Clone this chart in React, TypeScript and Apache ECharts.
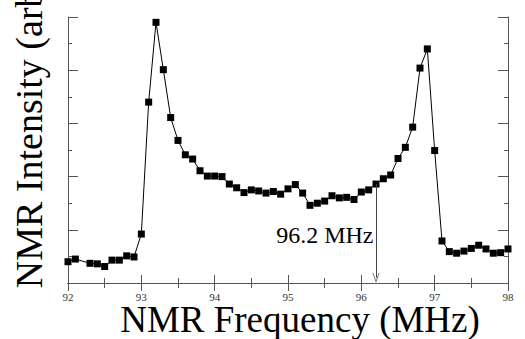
import React, { useEffect, useRef } from "react";
import * as echarts from "echarts";

const freq = [
  92.0, 92.1, 92.3, 92.4, 92.5, 92.6, 92.7, 92.8, 92.9, 93.0,
  93.1, 93.2, 93.3, 93.4, 93.5, 93.6, 93.7, 93.8, 93.9, 94.0,
  94.1, 94.2, 94.3, 94.4, 94.5, 94.6, 94.7, 94.8, 94.9, 95.0,
  95.1, 95.2, 95.3, 95.4, 95.5, 95.6, 95.7, 95.8, 95.9, 96.0,
  96.1, 96.2, 96.3, 96.4, 96.5, 96.6, 96.7, 96.8, 96.9, 97.0,
  97.1, 97.2, 97.3, 97.4, 97.5, 97.6, 97.7, 97.8, 97.9, 98.0,
];
const intensity = [
  0.4, 0.45, 0.37, 0.36, 0.31, 0.43, 0.43, 0.51, 0.49, 0.92,
  3.4, 4.9, 4.01, 3.11, 2.68, 2.41, 2.33, 2.11, 2.01, 2.01,
  2.0, 1.86, 1.79, 1.7, 1.75, 1.73, 1.69, 1.72, 1.67, 1.77,
  1.85, 1.69, 1.46, 1.5, 1.54, 1.64, 1.6, 1.61, 1.57, 1.71,
  1.75, 1.86, 1.96, 2.03, 2.34, 2.55, 2.93, 4.04, 4.4, 2.49,
  0.79, 0.59, 0.56, 0.6, 0.65, 0.71, 0.64, 0.56, 0.57, 0.64,
];
const xTicks = { min: 92, max: 98, interval: 1 };
const yTicks = { min: 0, max: 5, interval: 1 };
const annotation = { freq: 96.2, value: 1.86, label: "96.2 MHz", textAt: [96.17, 0.9] };
const xTitle = "NMR Frequency (MHz)";
const yTitle = "NMR Intensity (arb)";

const SERIF = "serif";

export default function App() {
  const ref = useRef<HTMLDivElement>(null);
  useEffect(() => {
    if (!ref.current) return;
    const chart = echarts.init(ref.current, undefined, { renderer: "svg" });
    const axisLine = { show: true, lineStyle: { color: "#555", width: 1 } };
    const xBase = {
      type: "value" as const,
      min: xTicks.min,
      max: xTicks.max,
      interval: xTicks.interval,
      axisLine,
      splitLine: { show: false },
      axisTick: { show: true, inside: true, length: 8, lineStyle: { color: "#555" } },
      minorTick: { show: true, splitNumber: 2, length: 5, lineStyle: { color: "#555" } },
    };
    const yBase = {
      type: "value" as const,
      min: yTicks.min,
      max: yTicks.max,
      interval: yTicks.interval,
      axisLine,
      splitLine: { show: false },
      axisLabel: { show: false },
      axisTick: { show: true, inside: true, length: 10, lineStyle: { color: "#555" } },
      minorTick: { show: true, splitNumber: 2, length: 4, lineStyle: { color: "#555" } },
    };
    chart.setOption({
      animation: false,
      textStyle: { fontFamily: SERIF },
      grid: { left: 68, right: 17, top: 17, bottom: 56, containLabel: false, outerBoundsMode: "none" },
      xAxis: [
        {
          ...xBase,
          position: "bottom",
          axisLabel: {
            show: true,
            fontFamily: SERIF,
            fontSize: 11,
            color: "#333",
            margin: 8,
            formatter: "{value}",
          },
        },
        { ...xBase, position: "top", axisLabel: { show: false } },
      ],
      yAxis: [
        { ...yBase, position: "left" },
        { ...yBase, position: "right" },
      ],
      graphic: [
        {
          type: "text",
          x: 300,
          y: 319,
          style: {
            text: xTitle,
            fontFamily: SERIF,
            fontSize: 37,
            fill: "#000",
            align: "center",
            verticalAlign: "middle",
          },
        },
        {
          type: "text",
          x: 29,
          y: 132,
          rotation: Math.PI / 2,
          style: {
            text: yTitle,
            fontFamily: SERIF,
            fontSize: 38,
            fill: "#000",
            align: "center",
            verticalAlign: "middle",
          },
        },
      ],
      series: [
        {
          type: "line",
          data: freq.map((f, i) => [f, intensity[i]]),
          symbol: "rect",
          symbolSize: 7,
          showAllSymbol: true,
          itemStyle: { color: "#000" },
          lineStyle: { color: "#000", width: 1 },
          markLine: {
            silent: true,
            symbol: ["none", "path://M5,0 L10,10 L9,10 L5,2 L1,10 L0,10 Z"],
            symbolSize: [7, 10],
            lineStyle: { color: "#444", width: 1, type: "solid" },
            label: { show: false },
            data: [
              [
                { coord: [annotation.freq, annotation.value] },
                { coord: [annotation.freq, 0.1] },
              ],
            ],
          },
          markPoint: {
            data: [
              {
                coord: annotation.textAt,
                symbolSize: 1,
                itemStyle: { color: "rgba(0,0,0,0)" },
                label: {
                  show: true,
                  position: "left",
                  distance: 0,
                  formatter: annotation.label,
                  fontFamily: SERIF,
                  fontSize: 24,
                  color: "#000",
                },
              },
            ],
          },
        },
      ],
    });
    return () => chart.dispose();
  }, []);
  return (
    <div
      ref={ref}
      style={{ width: 525, height: 339, position: "absolute", left: 0, top: 0, background: "#fff" }}
    />
  );
}
